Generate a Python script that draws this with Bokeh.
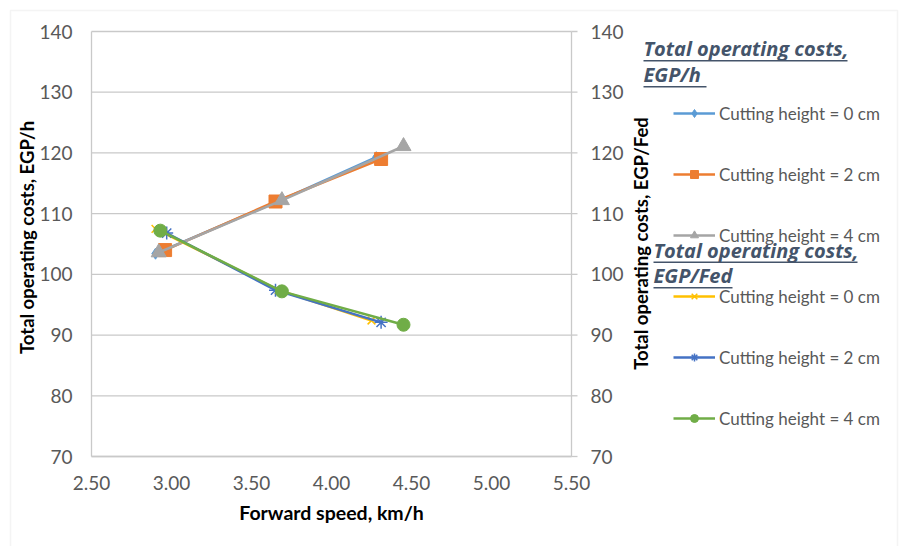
import math
from bokeh.plotting import figure
from bokeh.models import Range1d, Legend, LegendItem, Label, BoxAnnotation
from bokeh.core.properties import value
from bokeh.embed import file_html
from bokeh.resources import INLINE

# ---- data ----
series_labels = ["Cutting height = 0 cm", "Cutting height = 2 cm", "Cutting height = 4 cm"]

speed_h_0 = [2.90, 3.68, 4.28]
cost_h_0 = [103.4, 112.2, 119.3]
speed_h_2 = [2.96, 3.65, 4.31]
cost_h_2 = [104.0, 112.0, 119.0]
speed_h_4 = [2.92, 3.69, 4.45]
cost_h_4 = [103.6, 112.2, 121.1]

speed_f_0 = [2.90, 3.67, 4.25]
cost_f_0 = [107.5, 97.4, 92.4]
speed_f_2 = [2.97, 3.65, 4.31]
cost_f_2 = [106.8, 97.4, 92.1]
speed_f_4 = [2.93, 3.69, 4.45]
cost_f_4 = [107.2, 97.2, 91.7]

x_ticks = [2.5, 3.0, 3.5, 4.0, 4.5, 5.0, 5.5]
x_tick_labels = ["2.50", "3.00", "3.50", "4.00", "4.50", "5.00", "5.50"]
y_ticks = [70, 80, 90, 100, 110, 120, 130, 140]
y_tick_labels = ["70", "80", "90", "100", "110", "120", "130", "140"]

x_title = "Forward speed, km/h"
y_title_left = "Total operating costs, EGP/h"
y_title_right = "Total operating costs, EGP/Fed"
title_h = ["Total operating costs,", "EGP/h"]
title_f = ["Total operating costs,", "EGP/Fed"]

# ---- layout (pixels of the 901x546 page) ----
W, H = 901, 546
PL, PR, PT, PB = 91, 571, 31, 456          # plot area edges
FONT = "Lato"
GRID = "#C9C9C9"
TICKC = "#595959"
TCOL = "#44546A"

ppx = (PR - PL) / (x_ticks[-1] - x_ticks[0])
ppy = (PB - PT) / (y_ticks[-1] - y_ticks[0])
x_range = Range1d(x_ticks[0] - PL / ppx, x_ticks[-1] + (W - PR) / ppx)
y_range = Range1d(y_ticks[0] - (H - PB) / ppy, y_ticks[-1] + PT / ppy)

p = figure(width=W, height=H, output_backend="svg", toolbar_location=None,
           x_range=x_range, y_range=y_range, x_axis_type=None, y_axis_type=None,
           min_border=0, min_border_left=0, min_border_right=0,
           min_border_top=0, min_border_bottom=0)
p.outline_line_color = None
p.background_fill_color = "white"
p.border_fill_color = "white"

x0, x1 = x_ticks[0], x_ticks[-1]
y0, y1 = y_ticks[0], y_ticks[-1]

# grid lines and axis lines
p.segment(x0=[x0] * len(y_ticks), x1=[x1] * len(y_ticks), y0=y_ticks, y1=y_ticks,
          line_color=GRID, line_width=1.3)
p.segment(x0=[x0, x1, x0], x1=[x0, x1, x1], y0=[y0, y0, y0], y1=[y1, y1, y0],
          line_color=GRID, line_width=1.3)
# right axis tick marks (outside)
p.ray(x=[x1] * len(y_ticks), y=y_ticks, length=6, angle=0, length_units="screen",
      line_color=GRID, line_width=1.3)

# tick labels
p.text(x=[x0] * len(y_ticks), y=y_ticks, text=y_tick_labels, x_offset=-19,
       text_align="right", text_baseline="middle", text_font=value(FONT),
       text_font_size=value("19px"), text_color=TICKC)
p.text(x=[x1] * len(y_ticks), y=y_ticks, text=y_tick_labels, x_offset=19,
       text_align="left", text_baseline="middle", text_font=value(FONT),
       text_font_size=value("19px"), text_color=TICKC)
p.text(x=x_ticks, y=[y0] * len(x_ticks), text=x_tick_labels, y_offset=26,
       text_align="center", text_baseline="middle", text_font=value(FONT),
       text_font_size=value("19px"), text_color=TICKC)

# axis titles
def axis_title(txt, cx, cy, angle, size):
    p.add_layout(Label(x=cx, y=cy, x_units="canvas", y_units="canvas", text=txt,
                       angle=angle, text_align="center", text_baseline="middle",
                       text_font=FONT, text_font_size=size, text_font_style="bold",
                       text_color="black"))

axis_title(x_title, (PL + PR) / 2, 512, 0, "19.5px")
axis_title(y_title_left, 26, 237, math.pi / 2, "18.5px")
axis_title(y_title_right, 640, 243, math.pi / 2, "18.5px")

# data series
LW = 2.5
items = []

def add(xs, ys, color, marker, size, label):
    ln = p.line(xs, ys, line_color=color, line_width=LW)
    if marker in ("x", "asterisk"):
        sc = p.scatter(xs, ys, marker=marker, size=size, line_color=color, line_width=1.5)
    else:
        sc = p.scatter(xs, ys, marker=marker, size=size, fill_color=color, line_color=color)
    items.append(LegendItem(label=label, renderers=[ln, sc]))

add(speed_h_0, cost_h_0, "#5B9BD5", "diamond", 11, series_labels[0])
add(speed_h_2, cost_h_2, "#ED7D31", "square", 13, series_labels[1])
add(speed_h_4, cost_h_4, "#A5A5A5", "triangle", 15, series_labels[2])
add(speed_f_0, cost_f_0, "#FFC000", "x", 11, series_labels[0])
add(speed_f_2, cost_f_2, "#4472C4", "asterisk", 13, series_labels[1])
add(speed_f_4, cost_f_4, "#70AD47", "circle", 13, series_labels[2])

legend = Legend(items=items, location=(673, 117.5), orientation="vertical",
                glyph_width=42, glyph_height=20, label_height=20, spacing=40,
                label_standoff=4, padding=0, margin=0,
                border_line_color=None, background_fill_alpha=0,
                label_text_font=FONT, label_text_font_size="17px", label_text_color=TICKC)
p.add_layout(legend, "center")

# legend group titles (underlined, bold italic)
def group_title(txt, cx, mid, ul_y, ul_right):
    p.add_layout(Label(x=cx, y=mid, x_units="canvas", y_units="canvas",
                       text=txt, text_font="Open Sans", text_font_size="20px",
                       text_font_style="bold italic", text_color=TCOL,
                       text_baseline="middle", text_align="left"))
    p.add_layout(BoxAnnotation(left=cx, right=ul_right, top=ul_y, bottom=ul_y + 1.5,
                               left_units="canvas", right_units="canvas",
                               top_units="canvas", bottom_units="canvas",
                               fill_color=TCOL, fill_alpha=1, line_color=None, level="overlay"))

group_title(title_h[0], 643, 47.5, 59.5, 847)
group_title(title_h[1], 643, 73.5, 85.5, 706)
group_title(title_f[0], 653, 249.5, 261, 857)
group_title(title_f[1], 653, 274.5, 286.5, 732)

# outer chart border
p.add_layout(BoxAnnotation(left=10, right=897, top=10, bottom=600,
                           left_units="canvas", right_units="canvas",
                           top_units="canvas", bottom_units="canvas",
                           fill_alpha=0, line_color="#D9D9D9", line_width=1.5))

open("out.html", "w").write(file_html(p, INLINE))
